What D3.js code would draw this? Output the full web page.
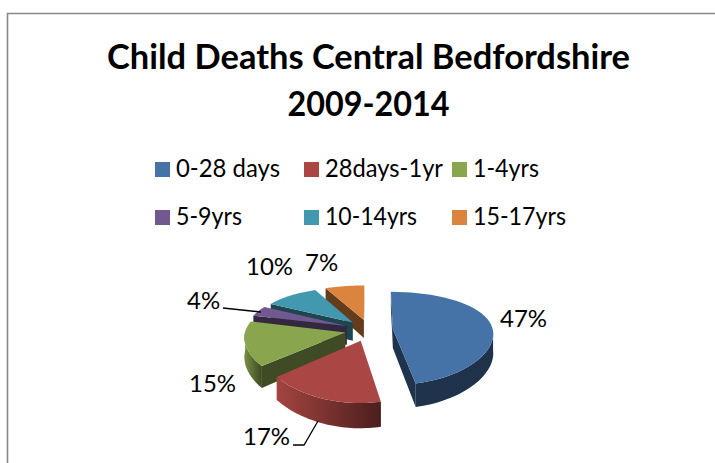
<!DOCTYPE html>
<html>
<head>
<meta charset="utf-8">
<script src="https://d3js.org/d3.v7.min.js"></script>
<style>
  html, body { margin: 0; padding: 0; background: #fff; }
  svg { display: block; }
  text { font-family: Lato, "Open Sans", sans-serif; fill: #000; }
</style>
</head>
<body>
<svg id="chart" width="715" height="463"></svg>
<script>
// data
const categories = ["0-28 days", "28days-1yr", "1-4yrs", "5-9yrs", "10-14yrs", "15-17yrs"];
const shares = [47, 17, 15, 4, 10, 7];
const colors = ["#4572A7", "#AA4643", "#89A54E", "#71588F", "#4198AF", "#DB843D"];
const titleLines = ["Child Deaths Central Bedfordshire", "2009-2014"];

const svg = d3.select("#chart");
const defs = svg.append("defs");

// chart frame, only the top and left edges are in the crop
svg.append("path")
  .attr("d", "M7.5,463V13.5H715")
  .attr("fill", "none")
  .attr("stroke", "#888")
  .attr("stroke-width", 1.6);

// title
svg.selectAll(".title")
  .data(titleLines)
  .join("text")
  .attr("class", "title")
  .attr("x", 368.5)
  .attr("y", (d, i) => 69 + i * 46.5)
  .attr("text-anchor", "middle")
  .attr("font-size", 35)
  .attr("font-weight", 700)
  .attr("textLength", (d, i) => i === 0 ? 523 : 162)
  .attr("lengthAdjust", "spacingAndGlyphs")
  .text(d => d);

// legend, 3 columns by 2 rows
const legendX = [155, 304, 452];
const legendY = [162, 210];
const legendWidths = [104, 118, 66, 66, 92, 93];
const legend = svg.selectAll(".legend")
  .data(categories)
  .join("g")
  .attr("class", "legend")
  .attr("transform", (d, i) => `translate(${legendX[i % 3]},${legendY[Math.floor(i / 3)]})`);
legend.append("rect")
  .attr("width", 15)
  .attr("height", 15)
  .attr("fill", (d, i) => colors[i]);
legend.append("text")
  .attr("x", 21)
  .attr("y", 15)
  .attr("font-size", 25)
  .attr("textLength", (d, i) => legendWidths[i])
  .attr("lengthAdjust", "spacingAndGlyphs")
  .text(d => d);

// 3d pie: d3.pie gives the angles, project() does the tilt and perspective
const cx = 369, cy = 330, R = 100, explode = 24, depth = 19;
const perspX = 0.09, perspY = 0.2, squash = 45;

function project(wx, wt, z) {
  const kx = 1 / (1 - perspX * wt / R);
  const ky = 1 / (1 - perspY * wt / R);
  return [cx + wx * kx, cy + (squash * wt / R + z) * ky];
}

const arcs = d3.pie().sort(null).value(d => d)(shares);

// painter's order, back slices first
const drawOrder = [5, 4, 3, 2, 0, 1];
// how dark the wall gradient starts on its left side
const wallStart = [2.2, 0.1, 0.4, 1.5, 1.5, 1.5];
const line = d3.line();
const pieG = svg.append("g");

drawOrder.forEach(i => {
  const a = arcs[i];
  const mid = (a.startAngle + a.endAngle) / 2;
  const ox = explode * Math.sin(mid), ot = -explode * Math.cos(mid);
  const pt = (ang, r, z) => project(ox + r * Math.sin(ang), ot - r * Math.cos(ang), z);

  const steps = d3.range(0, 41).map(s => a.startAngle + (a.endAngle - a.startAngle) * s / 40);
  const rim = steps.map(ang => pt(ang, R, 0));

  const g = pieG.append("g");

  // the two cut faces, only drawn if they look at the camera
  // (d3.polygonArea is negative for these when they face front)
  [[a.startAngle, true], [a.endAngle, false]].forEach(([ang, isStart]) => {
    const quad = [pt(ang, 0, 0), pt(ang, R, 0), pt(ang, R, depth), pt(ang, 0, depth)];
    const area = d3.polygonArea(quad);
    if ((isStart && area > 0) || (!isStart && area < 0)) {
      g.append("path")
        .attr("d", line(quad) + "Z")
        .attr("fill", d3.color(colors[i]).darker(2.2).formatHex());
    }
  });

  // outer wall, only the part facing front
  const wallAngles = steps.filter(ang => Math.cos(ang) < 0.02);
  if (wallAngles.length > 1) {
    const wall = wallAngles.map(ang => pt(ang, R, 0))
      .concat(wallAngles.slice().reverse().map(ang => pt(ang, R, depth)));
    const xs = wall.map(p => p[0]);
    const gid = "wall" + i;
    const grad = defs.append("linearGradient")
      .attr("id", gid)
      .attr("gradientUnits", "userSpaceOnUse")
      .attr("x1", d3.min(xs)).attr("x2", d3.max(xs))
      .attr("y1", 0).attr("y2", 0);
    grad.append("stop").attr("offset", 0)
      .attr("stop-color", d3.color(colors[i]).darker(wallStart[i]).formatHex());
    grad.append("stop").attr("offset", 1)
      .attr("stop-color", d3.color(colors[i]).darker(2.3).formatHex());
    g.append("path")
      .attr("d", line(wall) + "Z")
      .attr("fill", `url(#${gid})`);
  }

  // top surface
  g.append("path")
    .attr("d", line([pt(0, 0, 0)].concat(rim)) + "Z")
    .attr("fill", colors[i]);
});

// data labels, placed by hand like in the original
const labelPos = [[500, 327], [243, 445], [189, 392], [187, 309], [246, 275], [305, 271]];
svg.selectAll(".label")
  .data(shares)
  .join("text")
  .attr("class", "label")
  .attr("x", (d, i) => labelPos[i][0])
  .attr("y", (d, i) => labelPos[i][1])
  .attr("font-size", 24)
  .text(d => d + "%");

// leader lines for 4% and 17%
const leaders = [
  [[223, 308], [261, 312]],
  [[293, 445], [304, 445], [318, 421]]
];
svg.selectAll(".leader")
  .data(leaders)
  .join("path")
  .attr("class", "leader")
  .attr("d", d => line(d))
  .attr("fill", "none")
  .attr("stroke", "#000")
  .attr("stroke-width", 1.3);
</script>
</body>
</html>
